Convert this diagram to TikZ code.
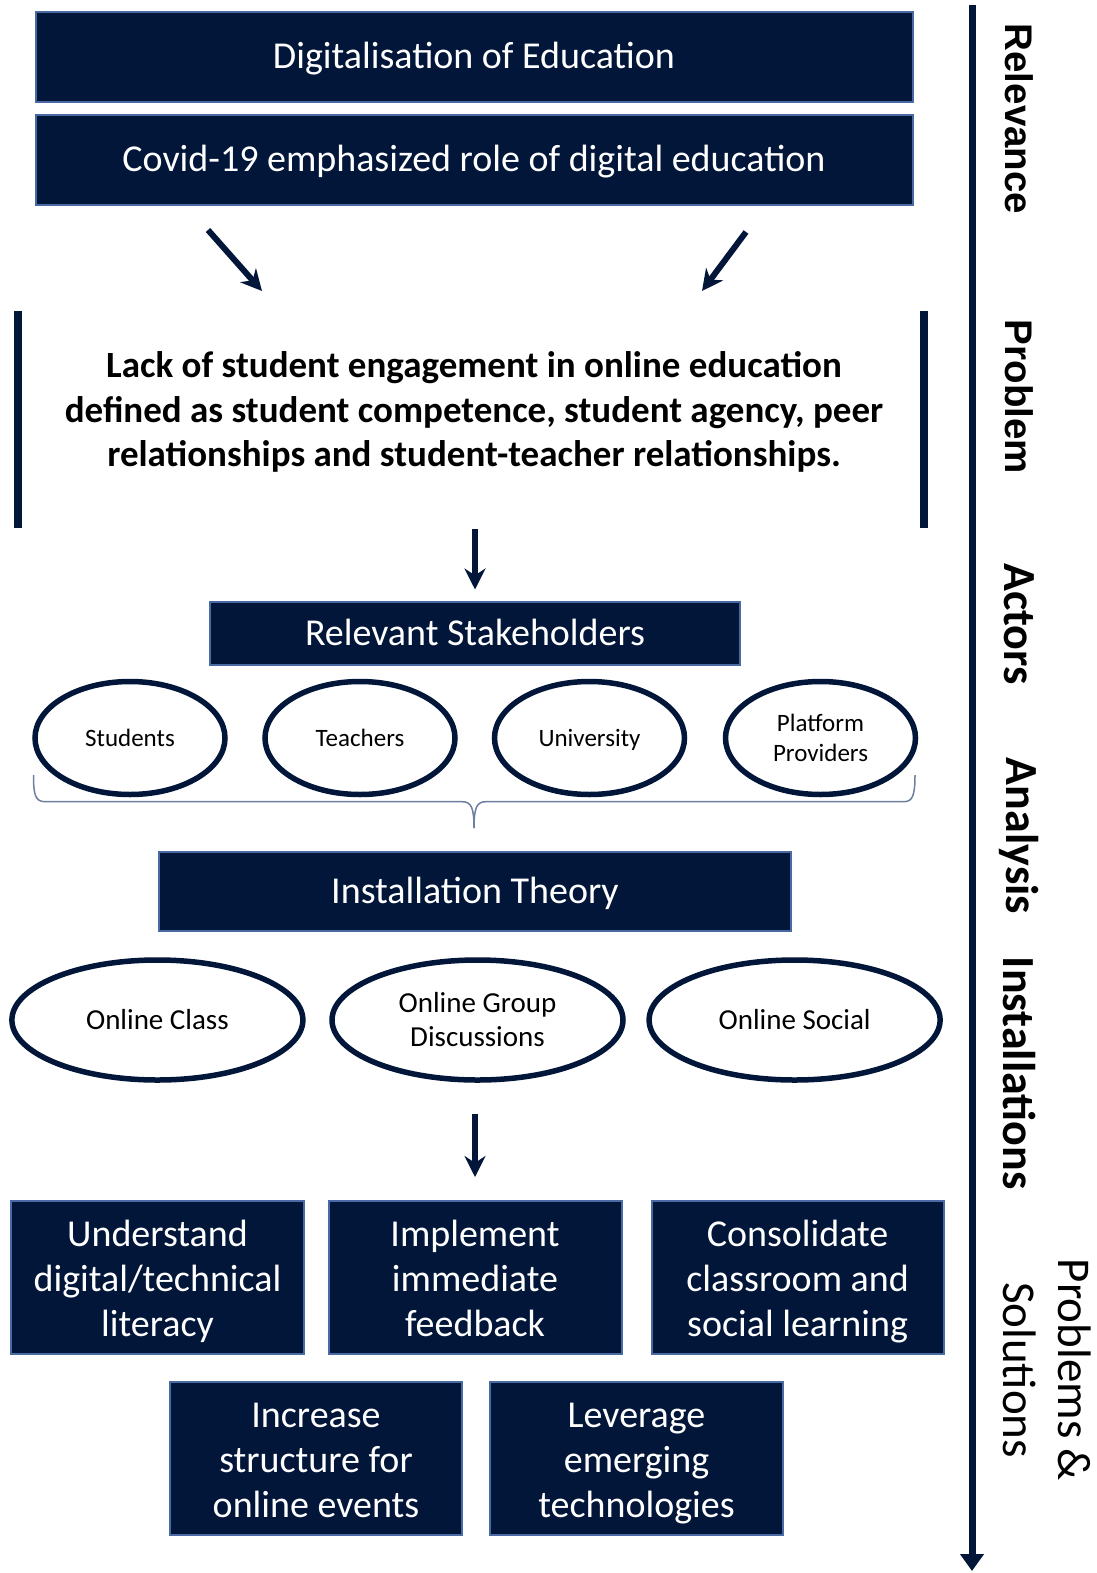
\documentclass[tikz,border=0pt]{standalone}
\usepackage{fontspec}
\setmainfont{Carlito}
\newfontfamily\arialfont{Liberation Sans}
\usetikzlibrary{shapes.geometric,arrows.meta}
\definecolor{navy}{HTML}{02163A}
\definecolor{edgeblue}{HTML}{4A6AA5}
\definecolor{bracecol}{HTML}{6E7E9E}
% strut for the first line of a multi-line label
\newcommand\firstfix{\rule{0pt}{\dimexpr\firstlineh-8pt\relax}}
\newcommand\firstlineh{8pt}
\begin{document}
\begin{tikzpicture}[x=1pt,y=-1pt,
  % invisible struts giving every text line the same height and depth
  evenlines/.style 2 args={execute at begin node={\def\firstlineh{#1}\rule[-#2]{0pt}{#1}},
    execute at end node={\rule[-#2]{0pt}{#1}}},
  bigtext/.style={font=\fontsize{38}{45}\selectfont,evenlines={46pt}{11pt}},
  darkbox/.style={draw=edgeblue,line width=2pt,fill=navy,text=white,
    align=center,inner sep=0pt,bigtext},
  oval/.style={ellipse,draw=navy,line width=5.5pt,fill=white,text=black,
    align=center,inner sep=0pt},
  smalltext/.style={font=\fontsize{25}{30}\selectfont,evenlines={32pt}{8pt}},
  midtext/.style={font=\fontsize{29}{34}\selectfont,evenlines={36pt}{9pt}},
  flowarrow/.style={draw=navy,line width=6pt,
    -{Stealth[length=21pt,width=21pt]}},
  sidebar/.style={draw=navy,line width=8pt},
  sidelabel/.style={rotate=-90,anchor=center,align=center,text=black},
  bracket/.style={draw=bracecol,line width=1.5pt}]
\useasboundingbox (0,0) rectangle (1096,1573);

% relevance boxes
\node[darkbox,minimum width=877,minimum height=90] (digi) at (474,57) {Digitalisation of Education};
\node[darkbox,minimum width=877,minimum height=90] (covid) at (474,160) {Covid-19 emphasized role of digital education};

% arrows into the problem statement
\coordinate (la0) at (208,230);
\coordinate (la1) at (262,291);
\coordinate (ra0) at (746,232);
\coordinate (ra1) at (702,291);
\draw[flowarrow] (la0) -- (la1);
\draw[flowarrow] (ra0) -- (ra1);

% problem statement between two bars
\coordinate (lb0) at (18,311);
\coordinate (lb1) at (18,528);
\coordinate (rb0) at (923.5,311);
\coordinate (rb1) at (923.5,528);
\draw[sidebar] (lb0) -- (lb1);
\draw[sidebar] (rb0) -- (rb1);
\node[align=center,evenlines={43pt}{11pt},font=\bfseries\fontsize{37}{44.5}\selectfont] (prob) at (474,410)
  {\firstfix Lack of student engagement in online education\\
   defined as student competence, student agency, peer\\
   relationships and student-teacher relationships.};

% actors
\coordinate (pa0) at (475,529);
\node[darkbox,minimum width=530,minimum height=63] (stake) at (475,633) {Relevant Stakeholders};
\draw[flowarrow,shorten >=11pt] (pa0) -- (stake.north);

\node[oval,smalltext,minimum width=190,minimum height=113] (stud) at (130,738) {Students};
\node[oval,smalltext,minimum width=190,minimum height=113] (teach) at (360,738) {Teachers};
\node[oval,smalltext,minimum width=190,minimum height=113] (univ) at (589.5,738) {University};
\node[oval,smalltext,minimum width=190,minimum height=113] (plat) at (820.5,738) {\firstfix Platform\\Providers};

% curly bracket under the actors
\coordinate (bl) at (33.5,775);
\coordinate (br) at (915,775);
\coordinate (btip) at (474,828);
\draw[bracket] (bl) .. controls (33.5,794) and (35,801.7) .. (45,801.7) -- (462,801.7)
  .. controls (471,801.7) and (474,807) .. (btip);
\draw[bracket] (btip) .. controls (474,807) and (477,801.7) .. (486,801.7) -- (904,801.7)
  .. controls (913,801.7) and (915,794) .. (br);

% analysis
\node[darkbox,minimum width=632,minimum height=79] (inst) at (475,891) {Installation Theory};

\node[oval,midtext,minimum width=291,minimum height=120] (oclass) at (157.4,1020) {Online Class};
\node[oval,midtext,minimum width=291,minimum height=120] (ogroup) at (477.5,1020) {\firstfix Online Group\\Discussions};
\node[oval,midtext,minimum width=291,minimum height=120] (osocial) at (794.6,1020) {Online Social};

\coordinate (ia0) at (475,1114);
\coordinate (ia1) at (475,1177);
\draw[flowarrow] (ia0) -- (ia1);

% problems and solutions
\node[darkbox,minimum width=293,minimum height=153] (s1) at (157.5,1277.5) {\firstfix Understand\\digital/technical\\literacy};
\node[darkbox,minimum width=293,minimum height=153] (s2) at (475,1277.5) {\firstfix Implement\\immediate\\feedback};
\node[darkbox,minimum width=292,minimum height=153] (s3) at (797.6,1277.5) {\firstfix Consolidate\\classroom and\\social learning};
\node[darkbox,minimum width=292,minimum height=153] (s4) at (316,1458.5) {\firstfix Increase\\structure for\\online events};
\node[darkbox,minimum width=293,minimum height=153] (s5) at (636.5,1458.5) {\firstfix Leverage\\emerging\\technologies};

% process axis on the right
\coordinate (ax0) at (972,5);
\coordinate (ax1) at (972,1571);
\draw[draw=navy,line width=7pt,-{Triangle[length=17pt,width=23pt]}] (ax0) -- (ax1);

\node[sidelabel,font=\arialfont\bfseries\fontsize{38.5}{44}\selectfont] (lrel) at (1019,119) {Relevance};
\node[sidelabel,font=\arialfont\bfseries\fontsize{38.5}{44}\selectfont] (lprob) at (1019,397) {Problem};
\node[sidelabel,font=\bfseries\fontsize{46}{50}\selectfont] (lact) at (1019,624) {Actors};
\node[sidelabel,font=\bfseries\fontsize{46}{50}\selectfont] (lana) at (1019,836) {Analysis};
\node[sidelabel,font=\bfseries\fontsize{46}{50}\selectfont] (linst) at (1019,1073) {Installations};
\node[sidelabel,font=\fontsize{47}{55}\selectfont] (lsol) at (1047,1370) {Problems \&\\Solutions};
\end{tikzpicture}
\end{document}
